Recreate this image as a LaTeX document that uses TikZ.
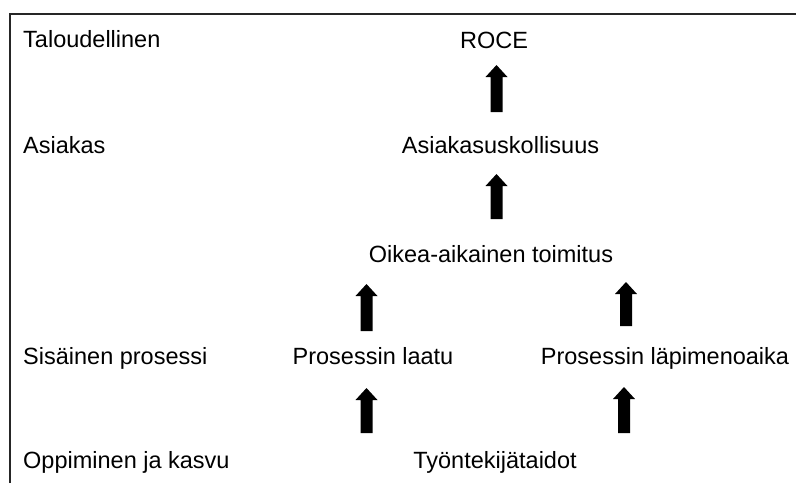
\documentclass[tikz,border=0pt]{standalone}
\usepackage{fontspec}
\setmainfont{Liberation Sans}
\begin{document}
\begin{tikzpicture}[x=1pt,y=-1pt,
  lbl/.style={inner sep=0pt,font=\fontsize{23.5}{28}\selectfont},
  frameline/.style={line width=2pt,black!85},
  blockarrow/.style={fill=black}]
\useasboundingbox (0,0) rectangle (796,483);
% frame (top and left edges)
\draw[frameline] (10,483) -- (10,14) -- (796,14);

% perspective labels
\node[lbl,anchor=base west] (lt) at (23,47) {Taloudellinen};
\node[lbl,anchor=base west] (la) at (23,153) {Asiakas};
\node[lbl,anchor=base west] (ls) at (23,364) {Sisäinen prosessi};
\node[lbl,anchor=base west] (lo) at (23,468) {Oppiminen ja kasvu};

% measures
\node[lbl,anchor=base] (roce) at (494,48) {ROCE};
\node[lbl,anchor=base] (usk) at (500.5,153) {Asiakasuskollisuus};
\node[lbl,anchor=base] (oikea) at (491,262) {Oikea-aikainen toimitus};
\node[lbl,anchor=base] (laatu) at (373,364) {Prosessin laatu};
\node[lbl,anchor=base] (lapi) at (665,364) {Prosessin läpimenoaika};
\node[lbl,anchor=base] (tyon) at (495,468) {Työntekijätaidot};

% block arrows: #1 = foot, #2 = tip
\newcommand\blockarr[2]{%
  \path (#1) coordinate (f) (#2) coordinate (t);
  \fill[blockarrow] ([xshift=-6pt]f) -- ([xshift=6pt]f)
    -- ([xshift=6pt,yshift=-12pt]t) -- ([xshift=11pt,yshift=-12pt]t)
    -- (t) -- ([xshift=-11pt,yshift=-12pt]t)
    -- ([xshift=-6pt,yshift=-12pt]t) -- cycle;}

\coordinate (a1f) at (496.5,112); \coordinate (a1t) at (496.5,65);
\coordinate (a2f) at (496.5,219); \coordinate (a2t) at (496.5,174);
\coordinate (a3f) at (366.5,331); \coordinate (a3t) at (366.5,284);
\coordinate (a4f) at (626,326);   \coordinate (a4t) at (626,282);
\coordinate (a5f) at (366.5,433); \coordinate (a5t) at (366.5,388);
\coordinate (a6f) at (624,433);   \coordinate (a6t) at (624,387);
\blockarr{a1f}{a1t}
\blockarr{a2f}{a2t}
\blockarr{a3f}{a3t}
\blockarr{a4f}{a4t}
\blockarr{a5f}{a5t}
\blockarr{a6f}{a6t}
\end{tikzpicture}
\end{document}
